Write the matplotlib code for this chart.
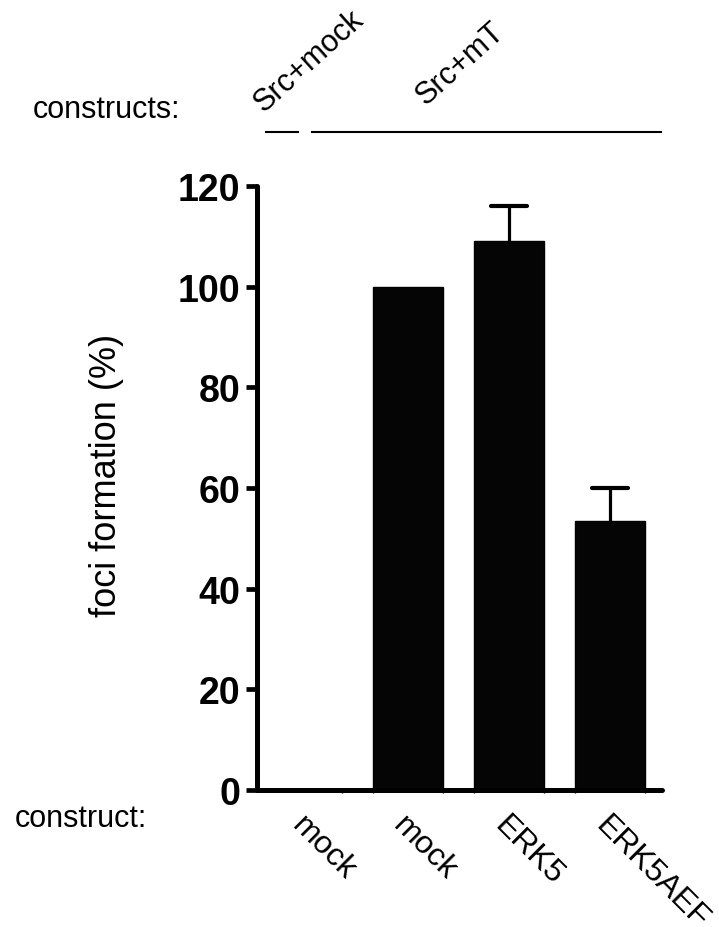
import matplotlib
matplotlib.use("Agg")
import matplotlib.pyplot as plt
import numpy as np

plt.rcParams["font.family"] = ["Liberation Sans", "DejaVu Sans"]

# data
constructs = ["mock", "mock", "ERK5", "ERK5AEF"]
foci = np.array([0, 100, 109, 53.5])
foci_err = np.array([0, 0, 7, 6.5])
yticks = [0, 20, 40, 60, 80, 100, 120]
groups = ["Src+mock", "Src+mT"]

W, H = 719, 928
fig = plt.figure(figsize=(W / 100, H / 100), dpi=100)

# axes placed in pixel terms of the reference
x0, x1, y0, y1 = 257, 662, 791, 187
ax = fig.add_axes([x0 / W, 1 - y0 / H, (x1 - x0) / W, (y0 - y1) / H])

x = np.arange(len(constructs))
bw = 0.70
ax.bar(x, foci, width=bw, color="#050505", edgecolor="black", linewidth=1, zorder=2)

# one-sided (upper) error bars
has_err = foci_err > 0
cap = 0.18
ax.vlines(x[has_err], foci[has_err], foci[has_err] + foci_err[has_err],
          color="black", lw=2.3, zorder=1)
ax.hlines(foci[has_err] + foci_err[has_err], x[has_err] - cap, x[has_err] + cap,
          color="black", lw=3, capstyle="round", zorder=1)

ax.set_xlim(-0.495, 3.515)
ax.set_ylim(0, 120)
for s in ["top", "right"]:
    ax.spines[s].set_visible(False)
for s in ["left", "bottom"]:
    ax.spines[s].set_linewidth(3.6)
    ax.spines[s].set_capstyle("round")

ax.set_yticks(yticks)
ax.set_yticklabels([str(v) for v in yticks], fontsize=27, fontweight="bold")
ax.tick_params(axis="y", length=8, width=3.4, pad=4)

# tiny ticks at the bar edges, no ticks at centres
edges = np.sort(np.concatenate([x[1:] - bw / 2, x + bw / 2]))
ax.set_xticks(edges, minor=True)
ax.tick_params(axis="x", which="minor", length=2, width=1)
ax.set_xticks(x)
ax.set_xticklabels([])
ax.tick_params(axis="x", which="major", length=0)

for xi, lab in zip(x, constructs):
    ax.text(xi - 0.1, -6, lab, rotation=-45, rotation_mode="anchor",
            ha="left", va="center", fontsize=23, clip_on=False)

ax.set_ylabel("foci formation (%)", fontsize=26)
ax.yaxis.set_label_coords((124 - x0) / (x1 - x0), (y0 - 475) / (y0 - y1))

# group labels and lines above the plot
fig.text(33 / W, 1 - 118 / H, "constructs:", fontsize=22, ha="left", va="baseline")
fig.text(15 / W, 1 - 827 / H, "construct:", fontsize=22, ha="left", va="baseline")
fig.text(264 / W, 1 - 113 / H, groups[0], rotation=42, rotation_mode="anchor",
         ha="left", va="baseline", fontsize=22)
fig.text(426 / W, 1 - 106 / H, groups[1], rotation=42, rotation_mode="anchor",
         ha="left", va="baseline", fontsize=22)
fig.add_artist(plt.Line2D([266 / W, 298 / W], [1 - 133 / H] * 2, color="black", lw=1.5))
fig.add_artist(plt.Line2D([312 / W, 661 / W], [1 - 133 / H] * 2, color="black", lw=1.5))

fig.savefig("out.png", dpi=100)
